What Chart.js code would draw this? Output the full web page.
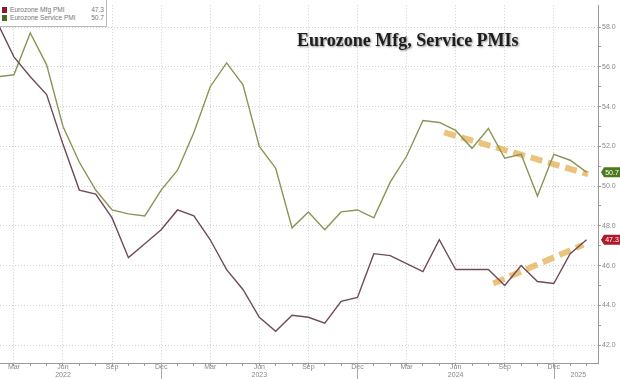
<!DOCTYPE html>
<html>
<head>
<meta charset="utf-8">
<script src="https://cdn.jsdelivr.net/npm/chart.js@4/dist/chart.umd.min.js"></script>
<style>
  html, body { margin:0; padding:0; background:#fff; }
  #wrap { position:relative; width:620px; height:379px; }
  #title { position:absolute; left:297px; top:30px; font-family:"Liberation Serif", serif; font-weight:bold; font-size:18px; color:#1e1e1e; text-shadow:1px 1px 2px rgba(0,0,0,0.45); white-space:nowrap; }
  #legend { position:absolute; left:0; top:0; width:106px; height:26px; background:#fff; border:1px solid #bbb; border-top:none; border-left:none; font-family:"Liberation Sans", sans-serif; font-size:6.6px; color:#777; }
  .row { position:absolute; left:2px; height:8px; line-height:8px; width:102px; }
  .sw { position:absolute; left:0; top:1px; width:5px; height:6px; }
  .lab { position:absolute; left:8px; }
  .val { position:absolute; right:0; }
</style>
</head>
<body>
<div id="wrap">
  <canvas id="c" width="620" height="379"></canvas>
  <div id="legend">
    <div class="row" style="top:6px"><span class="sw" style="background:#8e1b2b"></span><span class="lab">Eurozone Mfg PMI</span><span class="val">47.3</span></div>
    <div class="row" style="top:14px"><span class="sw" style="background:#4c6b22"></span><span class="lab">Eurozone Service PMI</span><span class="val">50.7</span></div>
  </div>
  <div id="title">Eurozone Mfg, Service PMIs</div>
</div>
<script>
// Months from Feb 2022 to Feb 2025 (index 0 = Feb 2022)
const months = ["Feb 2022","Mar 2022","Apr 2022","May 2022","Jun 2022","Jul 2022","Aug 2022","Sep 2022","Oct 2022","Nov 2022","Dec 2022",
  "Jan 2023","Feb 2023","Mar 2023","Apr 2023","May 2023","Jun 2023","Jul 2023","Aug 2023","Sep 2023","Oct 2023","Nov 2023","Dec 2023",
  "Jan 2024","Feb 2024","Mar 2024","Apr 2024","May 2024","Jun 2024","Jul 2024","Aug 2024","Sep 2024","Oct 2024","Nov 2024","Dec 2024",
  "Jan 2025","Feb 2025"];
const mfgPMI = [58.2,56.5,55.5,54.6,52.1,49.8,49.6,48.4,46.4,47.1,47.8,
  48.8,48.5,47.3,45.8,44.8,43.4,42.7,43.5,43.4,43.1,44.2,44.4,
  46.6,46.5,46.1,45.7,47.3,45.8,45.8,45.8,45.0,46.0,45.2,45.1,
  46.6,47.3];
const servicePMI = [55.5,55.6,57.7,56.1,53.0,51.2,49.8,48.8,48.6,48.5,49.8,
  50.8,52.7,55.0,56.2,55.1,52.0,50.9,47.9,48.7,47.8,48.7,48.8,
  48.4,50.2,51.5,53.3,53.2,52.8,51.9,52.9,51.4,51.6,49.5,51.6,
  51.3,50.7];
// Trend arrows (month index, value)
const svcTrendX = [27.3, 36.1];
const svcTrendY = [52.7, 50.6];
const mfgTrendX = [30.3, 35.8];
const mfgTrendY = [45.1, 47.05];
// Axis ticks
const quarterLabels = {2:"Mar",5:"Jun",8:"Sep",11:"Dec"};
const yearLabels = [{x:4, t:"2022"},{x:16, t:"2023"},{x:28, t:"2024"},{x:35.5, t:"2025"}];
const yTicks = [42,43,44,45,46,47,48,49,50,51,52,53,54,55,56,57,58];

const monthOf = i => (1 + i) % 12;
const toXY = (xs, ys) => xs.map((x, i) => ({x, y: ys[i]}));

const xTickVals = [];
for (let i = 1; i <= 36; i++) xTickVals.push(i);
xTickVals.push(35.5);

const isQuarter = v => Number.isInteger(v) && quarterLabels[monthOf(v)] !== undefined;

const extras = {
  id: 'extras',
  afterDraw(chart) {
    const {ctx, chartArea, scales:{x, y}} = chart;
    ctx.save();
    // year separators at Dec
    ctx.strokeStyle = '#aaa'; ctx.lineWidth = 1;
    for (let i = 0; i < months.length; i++) {
      if (monthOf(i) === 11) {
        const px = Math.round(x.getPixelForValue(i)) + 0.5;
        ctx.beginPath(); ctx.moveTo(px, chartArea.bottom); ctx.lineTo(px, 379); ctx.stroke();
      }
    }
    // last value boxes
    const boxes = [
      {v: servicePMI[servicePMI.length-1], c:'#4d7a1f'},
      {v: mfgPMI[mfgPMI.length-1], c:'#b0182c'}
    ];
    ctx.font = '7px "Liberation Sans", sans-serif';
    ctx.textBaseline = 'middle'; ctx.textAlign = 'center';
    boxes.forEach(b => {
      const py = y.getPixelForValue(b.v);
      const x0 = chartArea.right + 3;
      ctx.fillStyle = b.c;
      ctx.beginPath();
      ctx.moveTo(x0, py);
      ctx.lineTo(x0 + 3, py - 5);
      ctx.lineTo(620, py - 5);
      ctx.lineTo(620, py + 5);
      ctx.lineTo(x0 + 3, py + 5);
      ctx.closePath();
      ctx.fill();
      ctx.fillStyle = '#fff';
      ctx.fillText(b.v.toFixed(1), x0 + 11, py + 0.5);
    });
    ctx.restore();
  }
};

new Chart(document.getElementById('c'), {
  type: 'line',
  data: {
    datasets: [
      { label:'Eurozone Mfg PMI', data: toXY(months.map((m,i)=>i), mfgPMI), borderColor:'#6f4a5b', borderWidth:1.4, pointRadius:0, tension:0 },
      { label:'Eurozone Service PMI', data: toXY(months.map((m,i)=>i), servicePMI), borderColor:'#8a9553', borderWidth:1.4, pointRadius:0, tension:0 },
      { label:'svcTrend', data: toXY(svcTrendX, svcTrendY), borderColor:'rgba(226,170,70,0.7)', borderWidth:6, borderDash:[12,6], pointRadius:0, borderCapStyle:'butt' },
      { label:'mfgTrend', data: toXY(mfgTrendX, mfgTrendY), borderColor:'rgba(226,170,70,0.7)', borderWidth:6, borderDash:[12,6], pointRadius:0, borderCapStyle:'butt' }
    ]
  },
  options: {
    responsive:false, animation:false, devicePixelRatio:1,
    layout:{ padding:0 },
    plugins:{ legend:{display:false}, tooltip:{enabled:false}, title:{display:false} },
    scales: {
      x: {
        type:'linear', min:0.15, max:36.7,
        afterBuildTicks: s => { s.ticks = xTickVals.map(v => ({value:v})); },
        afterFit: s => { s.height = 16; },
        ticks: {
          autoSkip:false, maxRotation:0, padding:-3, color:'#888',
          font:{ size:7, family:'"Liberation Sans", sans-serif', lineHeight:1.15 },
          callback: v => {
            const yl = yearLabels.find(o => o.x === v);
            const ml = Number.isInteger(v) ? (quarterLabels[monthOf(v)] || '') : '';
            return yl ? [ml, yl.t] : ml;
          }
        },
        grid: {
          color: c => isQuarter(c.tick && c.tick.value) ? '#cfcfcf' : 'rgba(0,0,0,0)',
          tickColor: c => (c.tick && Number.isInteger(c.tick.value)) ? '#999' : 'rgba(0,0,0,0)',
          tickLength:3, lineWidth:1, tickBorderDash:[]
        },
        border: { display:true, color:'#999', width:1, dash:[1,2] }
      },
      y: {
        type:'linear', position:'right', min:41.1, max:59.1,
        afterBuildTicks: s => { s.ticks = yTicks.map(v => ({value:v})); },
        afterFit: s => { s.width = 22; },
        ticks: {
          padding:1, color:'#888',
          font:{ size:7, family:'"Liberation Sans", sans-serif' },
          callback: v => (v % 2 === 0) ? v.toFixed(1) : ''
        },
        grid: {
          color: c => (c.tick && c.tick.value % 2 === 0) ? '#cfcfcf' : 'rgba(0,0,0,0)',
          tickColor:'#999', tickLength:3, lineWidth:1, tickBorderDash:[]
        },
        border: { display:true, color:'#999', width:1, dash:[1,2] }
      }
    }
  },
  plugins:[extras]
});
</script>
</body>
</html>
